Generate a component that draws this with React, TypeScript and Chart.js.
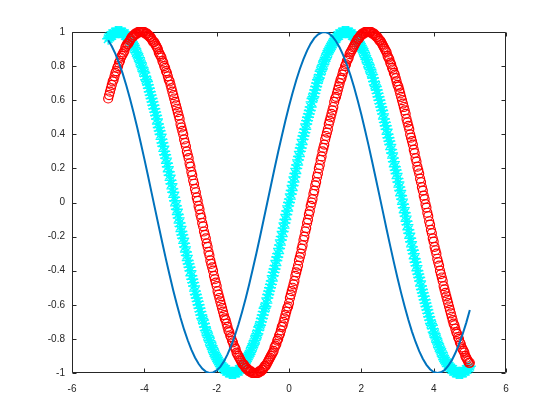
import React, { useEffect, useRef } from "react";
import { Chart, registerables } from "chart.js";

Chart.register(...registerables);

// x sampling of the series
const X_START = -5;
const MARKER_STEP = 0.025;
const LINE_STEP = 0.1;

// tick labels
const X_TICKS = [-6, -4, -2, 0, 2, 4, 6];
const Y_TICKS = [-1, -0.8, -0.6, -0.4, -0.2, 0, 0.2, 0.4, 0.6, 0.8, 1];

// blue solid line (x = -5 .. 5, step 0.1)
const blueY = [
  0.952, 0.916, 0.872, 0.818, 0.757, 0.688, 0.612, 0.53, 0.443, 0.351,
  0.256, 0.158, 0.058, -0.042, -0.141, -0.239, -0.335, -0.427, -0.516, -0.598,
  -0.676, -0.746, -0.808, -0.863, -0.909, -0.946, -0.974, -0.992, -1.0, -0.997,
  -0.985, -0.964, -0.932, -0.891, -0.841, -0.783, -0.717, -0.644, -0.565, -0.479,
  -0.389, -0.296, -0.199, -0.1, 0.0, 0.1, 0.199, 0.296, 0.389, 0.479,
  0.565, 0.644, 0.717, 0.783, 0.841, 0.891, 0.932, 0.964, 0.985, 0.997,
  1.0, 0.992, 0.974, 0.946, 0.909, 0.863, 0.808, 0.746, 0.676, 0.598,
  0.516, 0.427, 0.335, 0.239, 0.141, 0.042, -0.058, -0.158, -0.256, -0.351,
  -0.443, -0.53, -0.612, -0.688, -0.757, -0.818, -0.872, -0.916, -0.952, -0.978,
  -0.994, -1.0, -0.996, -0.983, -0.959, -0.926, -0.883, -0.832, -0.773, -0.706,
  -0.631,
];

// red circles (x = -5 .. 5, step 0.025)
const redY = [
  0.61, 0.63, 0.65, 0.67, 0.69, 0.71, 0.72, 0.74, 0.76, 0.77,
  0.79, 0.8, 0.82, 0.83, 0.85, 0.86, 0.87, 0.88, 0.89, 0.91,
  0.92, 0.93, 0.93, 0.94, 0.95, 0.96, 0.97, 0.97, 0.98, 0.98,
  0.99, 0.99, 0.99, 1.0, 1.0, 1.0, 1.0, 1.0, 1.0, 1.0,
  1.0, 0.99, 0.99, 0.99, 0.98, 0.98, 0.97, 0.97, 0.96, 0.95,
  0.94, 0.94, 0.93, 0.92, 0.91, 0.9, 0.88, 0.87, 0.86, 0.85,
  0.83, 0.82, 0.8, 0.79, 0.77, 0.76, 0.74, 0.72, 0.71, 0.69,
  0.67, 0.65, 0.63, 0.61, 0.59, 0.57, 0.55, 0.53, 0.51, 0.49,
  0.46, 0.44, 0.42, 0.4, 0.37, 0.35, 0.33, 0.3, 0.28, 0.26,
  0.23, 0.21, 0.18, 0.16, 0.13, 0.11, 0.08, 0.06, 0.03, 0.01,
  -0.02, -0.04, -0.07, -0.09, -0.12, -0.14, -0.17, -0.19, -0.21, -0.24,
  -0.26, -0.29, -0.31, -0.34, -0.36, -0.38, -0.4, -0.43, -0.45, -0.47,
  -0.49, -0.52, -0.54, -0.56, -0.58, -0.6, -0.62, -0.64, -0.66, -0.68,
  -0.69, -0.71, -0.73, -0.75, -0.76, -0.78, -0.79, -0.81, -0.82, -0.84,
  -0.85, -0.86, -0.88, -0.89, -0.9, -0.91, -0.92, -0.93, -0.94, -0.95,
  -0.95, -0.96, -0.97, -0.97, -0.98, -0.98, -0.99, -0.99, -0.99, -1.0,
  -1.0, -1.0, -1.0, -1.0, -1.0, -1.0, -1.0, -0.99, -0.99, -0.99,
  -0.98, -0.98, -0.97, -0.96, -0.96, -0.95, -0.94, -0.93, -0.92, -0.91,
  -0.9, -0.89, -0.88, -0.87, -0.85, -0.84, -0.83, -0.81, -0.8, -0.78,
  -0.77, -0.75, -0.73, -0.72, -0.7, -0.68, -0.66, -0.64, -0.62, -0.61,
  -0.59, -0.56, -0.54, -0.52, -0.5, -0.48, -0.46, -0.43, -0.41, -0.39,
  -0.37, -0.34, -0.32, -0.3, -0.27, -0.25, -0.22, -0.2, -0.17, -0.15,
  -0.12, -0.1, -0.07, -0.05, -0.02, 0.0, 0.02, 0.05, 0.07, 0.1,
  0.12, 0.15, 0.17, 0.2, 0.22, 0.25, 0.27, 0.3, 0.32, 0.34,
  0.37, 0.39, 0.41, 0.43, 0.46, 0.48, 0.5, 0.52, 0.54, 0.56,
  0.59, 0.61, 0.62, 0.64, 0.66, 0.68, 0.7, 0.72, 0.73, 0.75,
  0.77, 0.78, 0.8, 0.81, 0.83, 0.84, 0.85, 0.87, 0.88, 0.89,
  0.9, 0.91, 0.92, 0.93, 0.94, 0.95, 0.96, 0.96, 0.97, 0.98,
  0.98, 0.99, 0.99, 0.99, 1.0, 1.0, 1.0, 1.0, 1.0, 1.0,
  1.0, 1.0, 0.99, 0.99, 0.99, 0.98, 0.98, 0.97, 0.97, 0.96,
  0.95, 0.95, 0.94, 0.93, 0.92, 0.91, 0.9, 0.89, 0.88, 0.86,
  0.85, 0.84, 0.82, 0.81, 0.79, 0.78, 0.76, 0.75, 0.73, 0.71,
  0.69, 0.68, 0.66, 0.64, 0.62, 0.6, 0.58, 0.56, 0.54, 0.52,
  0.49, 0.47, 0.45, 0.43, 0.4, 0.38, 0.36, 0.34, 0.31, 0.29,
  0.26, 0.24, 0.21, 0.19, 0.17, 0.14, 0.12, 0.09, 0.07, 0.04,
  0.02, -0.01, -0.03, -0.06, -0.08, -0.11, -0.13, -0.16, -0.18, -0.21,
  -0.23, -0.26, -0.28, -0.3, -0.33, -0.35, -0.37, -0.4, -0.42, -0.44,
  -0.46, -0.49, -0.51, -0.53, -0.55, -0.57, -0.59, -0.61, -0.63, -0.65,
  -0.67, -0.69, -0.71, -0.72, -0.74, -0.76, -0.77, -0.79, -0.8, -0.82,
  -0.83, -0.85, -0.86, -0.87, -0.88, -0.9, -0.91, -0.92, -0.93, -0.94,
  -0.94,
];

// cyan stars (x = -5 .. 5, step 0.025)
const cyanY = [
  0.96, 0.97, 0.97, 0.98, 0.98, 0.99, 0.99, 0.99, 1.0, 1.0,
  1.0, 1.0, 1.0, 1.0, 1.0, 1.0, 0.99, 0.99, 0.99, 0.98,
  0.98, 0.97, 0.97, 0.96, 0.95, 0.94, 0.94, 0.93, 0.92, 0.91,
  0.9, 0.88, 0.87, 0.86, 0.85, 0.83, 0.82, 0.8, 0.79, 0.77,
  0.76, 0.74, 0.72, 0.71, 0.69, 0.67, 0.65, 0.63, 0.61, 0.59,
  0.57, 0.55, 0.53, 0.51, 0.49, 0.46, 0.44, 0.42, 0.4, 0.37,
  0.35, 0.33, 0.3, 0.28, 0.26, 0.23, 0.21, 0.18, 0.16, 0.13,
  0.11, 0.08, 0.06, 0.03, 0.01, -0.02, -0.04, -0.07, -0.09, -0.12,
  -0.14, -0.17, -0.19, -0.21, -0.24, -0.26, -0.29, -0.31, -0.34, -0.36,
  -0.38, -0.4, -0.43, -0.45, -0.47, -0.49, -0.52, -0.54, -0.56, -0.58,
  -0.6, -0.62, -0.64, -0.66, -0.68, -0.69, -0.71, -0.73, -0.75, -0.76,
  -0.78, -0.79, -0.81, -0.82, -0.84, -0.85, -0.86, -0.88, -0.89, -0.9,
  -0.91, -0.92, -0.93, -0.94, -0.95, -0.95, -0.96, -0.97, -0.97, -0.98,
  -0.98, -0.99, -0.99, -0.99, -1.0, -1.0, -1.0, -1.0, -1.0, -1.0,
  -1.0, -1.0, -0.99, -0.99, -0.99, -0.98, -0.98, -0.97, -0.96, -0.96,
  -0.95, -0.94, -0.93, -0.92, -0.91, -0.9, -0.89, -0.88, -0.87, -0.85,
  -0.84, -0.83, -0.81, -0.8, -0.78, -0.77, -0.75, -0.73, -0.72, -0.7,
  -0.68, -0.66, -0.64, -0.62, -0.61, -0.59, -0.56, -0.54, -0.52, -0.5,
  -0.48, -0.46, -0.43, -0.41, -0.39, -0.37, -0.34, -0.32, -0.3, -0.27,
  -0.25, -0.22, -0.2, -0.17, -0.15, -0.12, -0.1, -0.07, -0.05, -0.02,
  0.0,
  0.02, 0.05, 0.07, 0.1, 0.12, 0.15, 0.17, 0.2, 0.22, 0.25,
  0.27, 0.3, 0.32, 0.34, 0.37, 0.39, 0.41, 0.43, 0.46, 0.48,
  0.5, 0.52, 0.54, 0.56, 0.59, 0.61, 0.62, 0.64, 0.66, 0.68,
  0.7, 0.72, 0.73, 0.75, 0.77, 0.78, 0.8, 0.81, 0.83, 0.84,
  0.85, 0.87, 0.88, 0.89, 0.9, 0.91, 0.92, 0.93, 0.94, 0.95,
  0.96, 0.96, 0.97, 0.98, 0.98, 0.99, 0.99, 0.99, 1.0, 1.0,
  1.0, 1.0, 1.0, 1.0, 1.0, 1.0, 0.99, 0.99, 0.99, 0.98,
  0.98, 0.97, 0.97, 0.96, 0.95, 0.95, 0.94, 0.93, 0.92, 0.91,
  0.9, 0.89, 0.88, 0.86, 0.85, 0.84, 0.82, 0.81, 0.79, 0.78,
  0.76, 0.75, 0.73, 0.71, 0.69, 0.68, 0.66, 0.64, 0.62, 0.6,
  0.58, 0.56, 0.54, 0.52, 0.49, 0.47, 0.45, 0.43, 0.4, 0.38,
  0.36, 0.34, 0.31, 0.29, 0.26, 0.24, 0.21, 0.19, 0.17, 0.14,
  0.12, 0.09, 0.07, 0.04, 0.02, -0.01, -0.03, -0.06, -0.08, -0.11,
  -0.13, -0.16, -0.18, -0.21, -0.23, -0.26, -0.28, -0.3, -0.33, -0.35,
  -0.37, -0.4, -0.42, -0.44, -0.46, -0.49, -0.51, -0.53, -0.55, -0.57,
  -0.59, -0.61, -0.63, -0.65, -0.67, -0.69, -0.71, -0.72, -0.74, -0.76,
  -0.77, -0.79, -0.8, -0.82, -0.83, -0.85, -0.86, -0.87, -0.88, -0.9,
  -0.91, -0.92, -0.93, -0.94, -0.94, -0.95, -0.96, -0.97, -0.97, -0.98,
  -0.98, -0.99, -0.99, -0.99, -1.0, -1.0, -1.0, -1.0, -1.0, -1.0,
  -1.0, -1.0, -0.99, -0.99, -0.99, -0.98, -0.98, -0.97, -0.97, -0.96,
];

const toPoints = (ys: number[], step: number) =>
  ys.map((y, i) => ({ x: Number((X_START + i * step).toFixed(4)), y }));

const AXIS_COLOR = "#262626";
const FONT = '10px "Liberation Sans", Arial, Helvetica, sans-serif';

const fmt = (v: number) => String(Number(v.toFixed(2)));

const axesPlugin = {
  id: "octaveAxes",
  beforeDatasetsDraw(chart: any) {
    const { ctx, chartArea, scales } = chart;
    const xs = scales.x;
    const ys = scales.y;
    const L = Math.round(chartArea.left) + 0.5;
    const R = Math.round(chartArea.right) - 0.5;
    const T = Math.round(chartArea.top) + 0.5;
    const B = Math.round(chartArea.bottom) - 0.5;
    const TL = 4;
    ctx.save();
    ctx.strokeStyle = AXIS_COLOR;
    ctx.lineWidth = 1;
    ctx.beginPath();
    ctx.rect(L, T, R - L, B - T);
    for (const v of X_TICKS) {
      const p = Math.round(xs.getPixelForValue(v)) + 0.5;
      ctx.moveTo(p, B);
      ctx.lineTo(p, B - TL);
      ctx.moveTo(p, T);
      ctx.lineTo(p, T + TL);
    }
    for (const v of Y_TICKS) {
      const p = Math.round(ys.getPixelForValue(v)) + 0.5;
      ctx.moveTo(L, p);
      ctx.lineTo(L + TL, p);
      ctx.moveTo(R, p);
      ctx.lineTo(R - TL, p);
    }
    ctx.stroke();

    ctx.fillStyle = AXIS_COLOR;
    ctx.font = FONT;
    ctx.textAlign = "center";
    ctx.textBaseline = "middle";
    for (const v of X_TICKS) {
      ctx.fillText(fmt(v), xs.getPixelForValue(v), chartArea.bottom + 16);
    }
    ctx.textAlign = "right";
    for (const v of Y_TICKS) {
      ctx.fillText(fmt(v), chartArea.left - 7, ys.getPixelForValue(v));
    }
    ctx.restore();
  },
};

export default function App() {
  const canvasRef = useRef<HTMLCanvasElement | null>(null);

  useEffect(() => {
    const canvas = canvasRef.current;
    if (!canvas) return;
    const chart = new Chart(canvas, {
      type: "scatter",
      data: {
        datasets: [
          {
            label: "blue",
            data: toPoints(blueY, LINE_STEP),
            showLine: true,
            borderColor: "#0072BD",
            backgroundColor: "#0072BD",
            borderWidth: 2,
            pointRadius: 0,
            tension: 0,
          },
          {
            label: "red",
            data: toPoints(redY, MARKER_STEP),
            showLine: false,
            pointStyle: "circle",
            pointRadius: 4.5,
            pointBorderWidth: 1.2,
            pointBorderColor: "#ff0000",
            pointBackgroundColor: "rgba(0,0,0,0)",
            borderColor: "#ff0000",
            backgroundColor: "rgba(0,0,0,0)",
            clip: false,
          },
          {
            label: "cyan",
            data: toPoints(cyanY, MARKER_STEP),
            showLine: false,
            pointStyle: "star",
            pointRadius: 6,
            pointBorderWidth: 1.4,
            pointBorderColor: "#00ffff",
            pointBackgroundColor: "#00ffff",
            borderColor: "#00ffff",
            backgroundColor: "#00ffff",
            clip: false,
          },
        ],
      } as any,
      options: {
        responsive: false,
        animation: false,
        events: [],
        layout: { padding: { top: 32, right: 54, left: 0, bottom: 0 } },
        plugins: {
          legend: { display: false },
          tooltip: { enabled: false },
        },
        scales: {
          x: {
            type: "linear",
            min: -6,
            max: 6,
            grid: { display: false },
            border: { display: false },
            ticks: { display: false, stepSize: 2 },
            afterFit: (s: any) => {
              s.height = 47;
            },
          },
          y: {
            type: "linear",
            min: -1,
            max: 1,
            grid: { display: false },
            border: { display: false },
            ticks: { display: false, stepSize: 0.2 },
            afterFit: (s: any) => {
              s.width = 72;
            },
          },
        },
      } as any,
      plugins: [axesPlugin],
    });
    return () => chart.destroy();
  }, []);

  return (
    <div
      style={{
        position: "absolute",
        left: 0,
        top: 0,
        width: 560,
        height: 420,
        background: "#ffffff",
      }}
    >
      <canvas ref={canvasRef} width={560} height={420} style={{ display: "block" }} />
    </div>
  );
}
